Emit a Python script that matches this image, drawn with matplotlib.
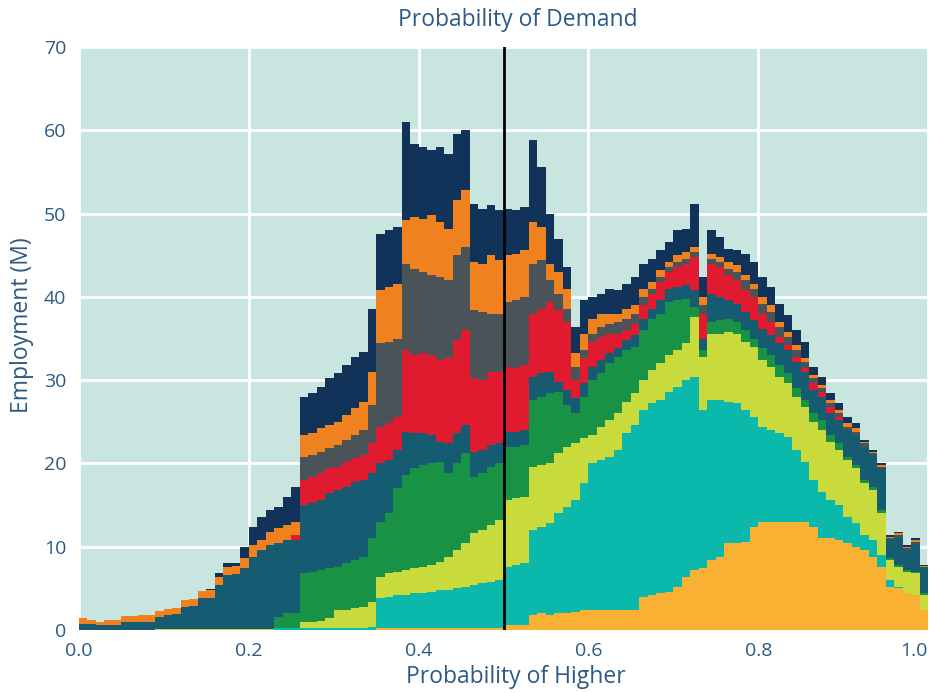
import numpy as np
import matplotlib
matplotlib.use("Agg")
import matplotlib.pyplot as plt

plt.rcParams['font.family'] = ['Open Sans', 'DejaVu Sans']

# x positions: probability of higher, steps of 0.01 (value holds until next step)
prob = np.arange(100) / 100

# cumulative employment (M): top edge of each group
gold_top = [0, 0, 0, 0, 0, 0, 0, 0, 0, 0,
            0, 0, 0, 0, 0, 0, 0, 0, 0, 0,
            0, 0, 0, 0, 0, 0, 0, 0, 0, 0,
            0, 0, 0, 0, 0, 0.3, 0.3, 0.3, 0.3, 0.3,
            0.3, 0.3, 0.3, 0.3, 0.3, 0.3, 0.3, 0.3, 0.3, 0.3,
            0.6, 0.6, 0.6, 1.8, 2.0, 1.8, 2.0, 2.0, 2.2, 2.4,
            2.4, 2.4, 2.4, 2.4, 2.4, 2.4, 4.0, 4.2, 4.4, 4.6,
            5.2, 6.4, 7.2, 7.4, 8.4, 8.8, 10.4, 10.4, 10.6, 12.4,
            13.0, 13.0, 13.0, 13.0, 13.0, 13.0, 12.4, 11.0, 11.0, 10.8,
            10.4, 10.0, 9.6, 8.8, 7.6, 5.2, 5.0, 4.4, 4.2, 2.4]
teal_top = [0, 0, 0, 0, 0, 0, 0, 0, 0, 0,
            0, 0, 0, 0, 0, 0, 0, 0, 0, 0,
            0, 0, 0, 0.2, 0.2, 0.2, 0.3, 0.3, 0.3, 0.3,
            0.3, 0.3, 0.3, 0.3, 0.4, 3.8, 4.0, 4.2, 4.2, 4.4,
            4.4, 4.6, 4.8, 4.8, 5.0, 5.2, 5.4, 5.6, 5.8, 6.0,
            7.6, 7.8, 8.0, 12.0, 12.4, 12.8, 14.0, 14.8, 15.6, 17.6,
            20.0, 20.4, 20.8, 21.6, 23.6, 24.6, 26.4, 27.2, 27.6, 28.6,
            29.2, 30.0, 30.4, 26.4, 27.6, 27.6, 27.4, 27.2, 26.4, 25.6,
            24.4, 24.0, 23.6, 23.2, 21.6, 20.2, 18.0, 16.6, 15.6, 15.0,
            13.6, 12.8, 11.4, 10.8, 9.0, 6.0, 5.2, 4.4, 4.2, 2.4]
lime_top = [0, 0, 0, 0, 0, 0, 0, 0, 0, 0.15,
            0.15, 0.15, 0.15, 0.15, 0.15, 0.15, 0.15, 0.15, 0.15, 0.15,
            0.15, 0.15, 0.15, 0.3, 0.3, 0.3, 1.0, 1.0, 1.1, 1.4,
            2.4, 2.4, 2.6, 2.8, 3.4, 6.4, 6.8, 7.0, 7.2, 7.4,
            7.6, 7.8, 8.2, 8.8, 9.6, 10.4, 11.6, 12.0, 12.6, 13.2,
            15.6, 15.8, 16.0, 19.6, 19.8, 20.0, 21.2, 22.0, 22.4, 23.0,
            23.4, 24.4, 25.2, 26.0, 27.4, 28.4, 30.0, 31.2, 32.0, 33.0,
            33.6, 34.4, 37.6, 32.8, 35.6, 35.6, 35.8, 35.6, 34.6, 34.0,
            32.4, 31.6, 30.4, 29.6, 28.0, 26.8, 25.0, 24.0, 22.6, 21.6,
            20.4, 19.4, 17.6, 16.8, 14.0, 8.4, 7.6, 7.0, 6.8, 4.2]
green_top = [0, 0, 0, 0, 0, 0, 0, 0, 0, 0.15,
             0.15, 0.15, 0.15, 0.15, 0.15, 0.15, 0.15, 0.15, 0.15, 0.15,
             0.15, 0.15, 0.15, 1.6, 2.0, 2.0, 6.8, 7.0, 7.2, 7.4,
             7.6, 8.0, 8.4, 8.8, 11.0, 13.0, 14.0, 17.0, 18.6, 19.4,
             19.8, 20.0, 20.2, 18.8, 20.0, 21.2, 18.4, 18.8, 19.6, 20.0,
             22.0, 22.0, 22.2, 27.6, 28.0, 28.4, 28.6, 27.0, 26.0, 28.0,
             30.0, 30.8, 32.0, 32.8, 33.6, 34.0, 36.0, 37.4, 38.0, 39.4,
             39.6, 39.8, 38.8, 33.6, 37.0, 37.2, 37.4, 37.0, 36.0, 35.0,
             33.8, 33.0, 31.8, 30.8, 29.0, 27.6, 26.0, 25.2, 23.4, 22.4,
             20.8, 19.8, 18.0, 17.2, 14.4, 8.6, 7.8, 7.2, 7.0, 4.4]
petrol_top = [0.7, 0.7, 0.6, 0.6, 0.6, 1.0, 1.0, 1.0, 1.0, 1.6,
              1.8, 1.9, 2.8, 2.9, 3.8, 3.9, 5.4, 6.6, 6.7, 7.4,
              8.8, 9.6, 10.2, 10.4, 10.8, 10.8, 15.0, 15.2, 15.6, 16.4,
              16.8, 17.2, 17.8, 18.0, 18.8, 20.0, 20.4, 21.6, 23.8, 23.6,
              23.6, 23.4, 22.6, 22.4, 23.6, 24.6, 21.4, 21.6, 22.2, 22.4,
              23.8, 23.8, 24.0, 30.4, 30.8, 31.0, 29.8, 28.8, 27.8, 29.6,
              31.6, 32.4, 33.2, 33.8, 34.8, 35.4, 37.4, 38.6, 39.6, 41.0,
              41.2, 41.4, 40.8, 35.0, 40.4, 40.0, 39.6, 39.2, 38.2, 37.2,
              36.2, 35.4, 34.4, 33.6, 32.2, 31.0, 28.8, 28.0, 26.0, 25.2,
              24.0, 23.4, 22.0, 21.0, 19.4, 10.8, 11.2, 9.6, 10.4, 7.6]
red_top = [0.7, 0.7, 0.6, 0.6, 0.6, 1.0, 1.0, 1.0, 1.0, 1.6,
           1.8, 1.9, 2.8, 2.9, 3.8, 3.9, 5.4, 6.6, 6.7, 7.4,
           8.8, 9.6, 10.2, 10.4, 10.8, 11.4, 18.0, 18.4, 18.8, 19.4,
           19.6, 20.2, 20.6, 21.0, 22.4, 24.4, 24.8, 25.6, 33.6, 33.0,
           33.2, 33.0, 32.4, 32.6, 34.8, 36.0, 30.2, 30.0, 31.0, 31.0,
           31.6, 31.4, 31.8, 38.0, 38.6, 39.4, 38.4, 37.0, 30.0, 32.6,
           34.6, 35.2, 35.6, 35.6, 36.0, 36.8, 39.0, 40.4, 41.8, 43.0,
           43.6, 44.0, 44.8, 38.0, 44.0, 43.6, 42.6, 42.0, 40.8, 40.0,
           38.0, 37.0, 35.2, 34.2, 32.8, 31.4, 29.6, 28.6, 26.8, 25.6,
           24.0, 23.4, 22.0, 21.0, 19.4, 10.8, 11.2, 9.6, 10.4, 7.6]
gray_top = [0.7, 0.7, 0.6, 0.6, 0.6, 1.0, 1.0, 1.0, 1.0, 1.6,
            1.8, 1.9, 2.8, 2.9, 3.8, 3.9, 5.4, 6.6, 6.7, 7.4,
            8.8, 9.6, 10.2, 10.4, 10.8, 11.4, 20.8, 21.0, 21.4, 21.8,
            22.2, 22.8, 23.4, 24.0, 27.0, 34.4, 34.6, 35.0, 44.0, 43.4,
            43.0, 42.6, 42.4, 42.0, 45.0, 46.0, 38.4, 38.2, 38.0, 38.0,
            39.4, 39.6, 40.0, 44.0, 44.4, 42.0, 40.4, 38.6, 31.6, 33.6,
            35.6, 36.4, 36.8, 37.0, 37.4, 38.0, 40.0, 41.0, 42.4, 43.6,
            44.2, 44.6, 45.4, 39.0, 44.6, 44.2, 43.4, 43.0, 42.0, 41.0,
            39.2, 38.2, 36.4, 35.2, 33.6, 32.2, 30.2, 29.0, 27.2, 26.0,
            24.4, 23.8, 22.4, 21.2, 19.6, 11.0, 11.4, 9.8, 10.6, 7.6]
orange_top = [1.4, 1.2, 1.0, 1.2, 1.2, 1.7, 1.7, 1.8, 1.8, 2.3,
              2.5, 2.7, 3.6, 3.7, 4.7, 4.8, 6.4, 7.6, 7.7, 8.6,
              10.2, 10.8, 11.8, 12.2, 12.6, 13.0, 23.4, 23.6, 24.2, 24.6,
              25.0, 25.8, 26.6, 27.4, 31.0, 40.8, 41.2, 41.6, 49.2, 49.6,
              49.4, 49.8, 49.0, 48.2, 51.6, 52.8, 44.2, 44.0, 45.0, 44.4,
              45.0, 45.2, 45.6, 49.0, 48.4, 44.0, 43.0, 41.0, 33.2, 35.6,
              37.4, 38.0, 38.0, 38.0, 38.6, 39.0, 41.0, 41.8, 43.2, 44.2,
              45.0, 45.4, 46.0, 40.0, 45.2, 44.8, 44.2, 43.8, 42.6, 41.6,
              40.0, 39.0, 37.0, 35.8, 34.2, 32.6, 30.6, 29.4, 27.6, 26.4,
              24.8, 24.2, 22.6, 21.4, 19.8, 11.2, 11.6, 10.0, 10.8, 7.7]
navy_top = [1.4, 1.2, 1.0, 1.2, 1.2, 1.7, 1.7, 1.8, 1.8, 2.3,
            2.5, 2.7, 3.6, 3.7, 4.7, 4.9, 6.8, 8.0, 8.1, 10.0,
            12.4, 13.6, 14.4, 14.8, 16.0, 17.2, 28.0, 28.4, 29.2, 30.2,
            30.8, 31.8, 32.8, 33.4, 38.5, 47.6, 48.0, 48.4, 61.0, 58.4,
            58.0, 57.6, 58.0, 57.2, 59.6, 60.0, 51.2, 50.6, 51.0, 50.4,
            50.6, 50.4, 50.8, 58.8, 55.6, 50.0, 47.0, 43.6, 36.4, 39.6,
            40.0, 40.4, 41.0, 40.8, 41.6, 42.4, 44.0, 44.6, 45.6, 46.6,
            48.0, 48.2, 51.2, 42.4, 48.0, 47.2, 45.8, 45.6, 45.2, 44.2,
            42.4, 41.2, 39.2, 37.8, 36.0, 34.6, 31.6, 30.4, 28.4, 27.2,
            25.6, 24.8, 22.8, 21.6, 20.0, 11.4, 11.8, 10.2, 11.0, 7.8]

tops = [gold_top, teal_top, lime_top, green_top, petrol_top,
        red_top, gray_top, orange_top, navy_top]
colors = ['#F8B133', '#0AB9AC', '#C8DA3C', '#189244', '#155C72',
          '#E11B2F', '#4A5357', '#F0811F', '#11335A']

x_ticks = [0.0, 0.2, 0.4, 0.6, 0.8, 1.0]
x_tick_labels = ['0.0', '0.2', '0.4', '0.6', '0.8', '1.0']

text_color = '#2B5A85'

fig = plt.figure(figsize=(9.31, 6.93), dpi=100)
ax = fig.add_axes([79 / 931, 1 - 630 / 693, 849 / 931, 583 / 693])
ax.set_facecolor('#C8E6DF')

# extend the last step to x = 1.0
xs = np.append(prob, 1.0)
lower = np.zeros(len(xs))
for top, c in zip(tops, colors):
    upper = np.append(top, top[-1])
    ax.fill_between(xs, lower, upper, step='post', color=c, linewidth=0, zorder=2)
    lower = upper

ax.axvline(0.5, color='black', linewidth=2, zorder=3)

ax.set_xlim(0, 1.0)
ax.set_ylim(0, 70)
ax.set_xticks(x_ticks)
ax.set_xticklabels(x_tick_labels)
ax.set_yticks(range(0, 71, 10))
ax.grid(True, color='white', linewidth=2)
ax.set_axisbelow(True)
for s in ax.spines.values():
    s.set_visible(False)
ax.tick_params(length=0, pad=9, labelsize=14, colors=text_color)
# keep the last label inside the figure, as in the original
ax.get_xticklabels()[-1].set_horizontalalignment('right')

fig.text(518 / 931, 1 - 20 / 693, 'Probability of Demand', ha='center', va='center',
         fontsize=16.5, color=text_color)
fig.text(516 / 931, 1 - 677 / 693, 'Probability of Higher', ha='center', va='center',
         fontsize=16.5, color=text_color)
fig.text(22 / 931, 1 - 325 / 693, 'Employment (M)', ha='center', va='center',
         rotation=90, fontsize=16.5, color=text_color)

fig.savefig('out.png', dpi=100)
